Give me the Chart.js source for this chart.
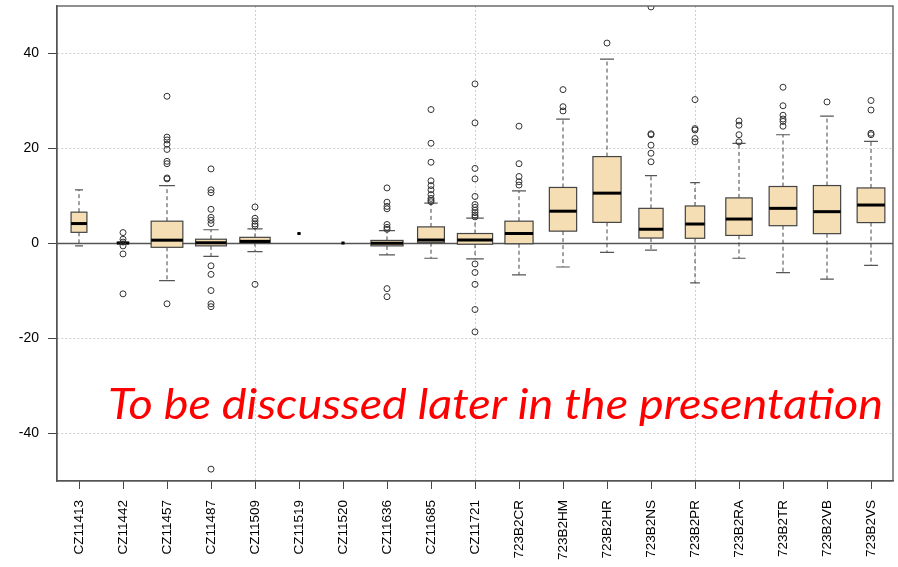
<!DOCTYPE html>
<html>
<head>
<meta charset="utf-8">
<script src="https://cdn.jsdelivr.net/npm/chart.js@4.4.1/dist/chart.umd.min.js"></script>
<style>
  html, body { margin: 0; padding: 0; background: #fff; }
  #wrap { width: 898px; height: 567px; }
</style>
</head>
<body>
<div id="wrap"><canvas id="box-chart" width="898" height="567"></canvas></div>
<script>
// Datos
const categories = ['CZ11413', 'CZ11442', 'CZ11457', 'CZ11487', 'CZ11509', 'CZ11519', 'CZ11520',
  'CZ11636', 'CZ11685', 'CZ11721', '723B2CR', '723B2HM', '723B2HR', '723B2NS', '723B2PR',
  '723B2RA', '723B2TR', '723B2VB', '723B2VS'];

const lowerWhisker = [-0.6, -0.3, -7.9, -2.8, -1.8, 2.0, 0.0, -2.5, -3.2, -3.35, -6.7, -5.05, -1.96, -1.5, -8.4, -3.2, -6.25, -7.6, -4.7];
const q1           = [2.25, -0.15, -0.9, -0.6, 0.1, 2.0, 0.0, -0.6, 0.07, -0.25, -0.15, 2.5, 4.35, 1.05, 1.0, 1.6, 3.65, 1.97, 4.3];
const median       = [4.1, 0.0, 0.6, 0.05, 0.35, 2.0, 0.0, -0.05, 0.63, 0.63, 2.0, 6.7, 10.5, 2.9, 4.0, 5.05, 7.3, 6.6, 8.0];
const q3           = [6.5, 0.15, 4.6, 0.8, 1.2, 2.0, 0.0, 0.55, 3.4, 2.0, 4.6, 11.7, 18.2, 7.3, 7.8, 9.5, 11.9, 12.1, 11.6];
const upperWhisker = [11.2, 0.4, 12.1, 2.8, 3.0, 2.0, 0.0, 2.6, 8.4, 5.25, 11.0, 26.1, 38.7, 14.2, 12.7, 21.0, 22.8, 26.7, 21.4];

const outliers = [
  [],
  [2.2, 0.8, 0.2, -0.6, -2.3, -10.7],
  [30.9, 22.3, 21.7, 20.8, 19.7, 17.2, 16.7, 13.7, 13.5, -12.8],
  [15.6, 11.2, 10.6, 7.1, 5.4, 4.8, 4.1, -4.8, -6.6, -10.0, -12.8, -13.4, -47.6],
  [7.6, 5.2, 4.6, 4.0, 3.6, -8.7],
  [],
  [],
  [11.6, 8.6, 7.7, 7.2, 3.9, 3.3, 2.9, -9.6, -11.3],
  [28.1, 21.0, 17.0, 13.1, 12.1, 11.2, 10.2, 9.4, 9.0, 8.7],
  [33.5, 25.3, 15.7, 13.5, 9.8, 8.1, 7.5, 6.9, 6.4, 5.9, 5.5, -4.4, -6.2, -8.7, -14.0, -18.7],
  [24.6, 16.7, 14.0, 12.9, 12.2],
  [32.3, 28.7, 27.8],
  [42.1],
  [49.7, 23.0, 22.8, 20.6, 18.9, 17.1],
  [30.2, 24.1, 23.8, 22.0, 21.3],
  [25.7, 24.8, 22.8, 21.3],
  [32.8, 28.9, 26.9, 26.1, 25.6, 24.6],
  [29.7],
  [30.0, 28.0, 23.1, 22.8]
];

const yTicks = [-40, -20, 0, 20, 40];
const xGridAt = ['CZ11509', 'CZ11721', '723B2PR'];
const note = 'To be discussed later in the presentation';

// Estilo
const relWidth = [0.36, 0.27, 0.72, 0.70, 0.69, 0.07, 0.07, 0.73, 0.61, 0.80, 0.64, 0.62, 0.64, 0.55, 0.44, 0.60, 0.63, 0.62, 0.63];
const boxFill = '#F5DEB3';
const lineDark = '#444';
const gridColor = '#d0d0d0';
const tickFont = { family: 'Liberation Sans, Arial, sans-serif', size: 14 };

const outlierPoints = [];
outliers.forEach((vals, i) => vals.forEach(v => outlierPoints.push({ x: categories[i], y: v })));

// Rejilla vertical, cajas, bigotes, línea del cero
const boxPlugin = {
  id: 'boxes',
  beforeDatasetsDraw(chart) {
    const { ctx, chartArea: a, scales: { x, y } } = chart;
    const step = x.getPixelForValue(1) - x.getPixelForValue(0);

    ctx.save();
    ctx.beginPath();
    ctx.rect(a.left, a.top, a.right - a.left, a.bottom - a.top);
    ctx.clip();

    // grid() vertical
    ctx.strokeStyle = gridColor;
    ctx.lineWidth = 1;
    ctx.setLineDash([2, 2]);
    ctx.beginPath();
    xGridAt.forEach(c => {
      const gx = Math.round(x.getPixelForValue(categories.indexOf(c))) + 0.5;
      ctx.moveTo(gx, a.top); ctx.lineTo(gx, a.bottom);
    });
    ctx.stroke();
    ctx.setLineDash([]);

    // abline h = 0
    const y0 = Math.round(y.getPixelForValue(0)) + 0.5;
    ctx.strokeStyle = '#555';
    ctx.lineWidth = 1.4;
    ctx.beginPath();
    ctx.moveTo(a.left, y0); ctx.lineTo(a.right, y0);
    ctx.stroke();

    categories.forEach((c, i) => {
      const cx = x.getPixelForValue(i);
      const hw = relWidth[i] * step / 2;
      const pLo = y.getPixelForValue(lowerWhisker[i]);
      const pQ1 = y.getPixelForValue(q1[i]);
      const pMed = y.getPixelForValue(median[i]);
      const pQ3 = y.getPixelForValue(q3[i]);
      const pHi = y.getPixelForValue(upperWhisker[i]);

      // bigotes
      ctx.strokeStyle = lineDark;
      ctx.lineWidth = 1;
      ctx.setLineDash([4, 3]);
      ctx.beginPath();
      ctx.moveTo(cx, pQ3); ctx.lineTo(cx, pHi);
      ctx.moveTo(cx, pQ1); ctx.lineTo(cx, pLo);
      ctx.stroke();
      ctx.setLineDash([]);

      // topes
      ctx.strokeStyle = '#555';
      ctx.lineWidth = 1.2;
      ctx.beginPath();
      ctx.moveTo(cx - hw / 2, pHi); ctx.lineTo(cx + hw / 2, pHi);
      ctx.moveTo(cx - hw / 2, pLo); ctx.lineTo(cx + hw / 2, pLo);
      ctx.stroke();

      // caja
      ctx.fillStyle = boxFill;
      ctx.fillRect(cx - hw, pQ3, hw * 2, pQ1 - pQ3);
      ctx.strokeStyle = lineDark;
      ctx.lineWidth = 1.2;
      ctx.strokeRect(cx - hw, pQ3, hw * 2, pQ1 - pQ3);

      // mediana
      ctx.strokeStyle = '#000';
      ctx.lineWidth = 3;
      ctx.beginPath();
      ctx.moveTo(cx - hw, pMed); ctx.lineTo(cx + hw, pMed);
      ctx.stroke();
    });
    ctx.restore();
  },
  afterDraw(chart) {
    const { ctx, chartArea: a } = chart;
    ctx.save();
    // marco
    ctx.strokeStyle = '#555';
    ctx.lineWidth = 1.3;
    ctx.strokeRect(a.left, a.top, a.right - a.left, a.bottom - a.top);

    // texto rojo
    ctx.fillStyle = '#ff0000';
    ctx.font = 'italic 43px Lato, "Open Sans", sans-serif';
    ctx.textBaseline = 'alphabetic';
    const w = ctx.measureText(note).width;
    ctx.translate(108, 419);
    ctx.scale(775 / w, 1);
    ctx.fillText(note, 0, 0);
    ctx.restore();
  }
};

const chart = new Chart(document.getElementById('box-chart').getContext('2d'), {
  type: 'line',
  data: {
    labels: categories,
    datasets: [{
      label: 'outliers',
      data: outlierPoints,
      showLine: false,
      pointStyle: 'circle',
      pointRadius: 3,
      pointBorderWidth: 1,
      pointBorderColor: '#333',
      pointBackgroundColor: 'rgba(0,0,0,0)'
    }]
  },
  options: {
    responsive: false,
    animation: false,
    devicePixelRatio: 1,
    layout: { padding: { top: 6, right: 2, left: 0, bottom: 0 } },
    plugins: { legend: { display: false }, tooltip: { enabled: false } },
    scales: {
      x: {
        type: 'category',
        offset: true,
        afterFit: (s) => {
          s.height = 86;
          s.paddingLeft = 0; s.paddingRight = 0;
        },
        grid: {
          offset: false,
          drawOnChartArea: false,
          tickColor: lineDark,
          tickLength: 8,
          tickWidth: 1
        },
        border: { display: true, color: '#555', width: 1.3 },
        ticks: {
          autoSkip: false,
          maxRotation: 90,
          minRotation: 90,
          padding: 11,
          color: '#000',
          font: { family: tickFont.family, size: 13.5 }
        }
      },
      y: {
        min: -50.1,
        max: 49.9,
        afterFit: (s) => {
          s.width = 57;
          s.paddingTop = 0; s.paddingBottom = 0;
        },
        afterBuildTicks: (s) => { s.ticks = yTicks.map(v => ({ value: v })); },
        grid: {
          color: gridColor,
          lineWidth: 1,
          tickColor: lineDark,
          tickLength: 9,
          tickWidth: 1,
          tickBorderDash: []
        },
        border: { display: true, color: '#555', width: 1.3, dash: [2, 2] },
        ticks: {
          padding: 9,
          color: '#000',
          font: tickFont
        }
      }
    }
  },
  plugins: [boxPlugin]
});
</script>
</body>
</html>
